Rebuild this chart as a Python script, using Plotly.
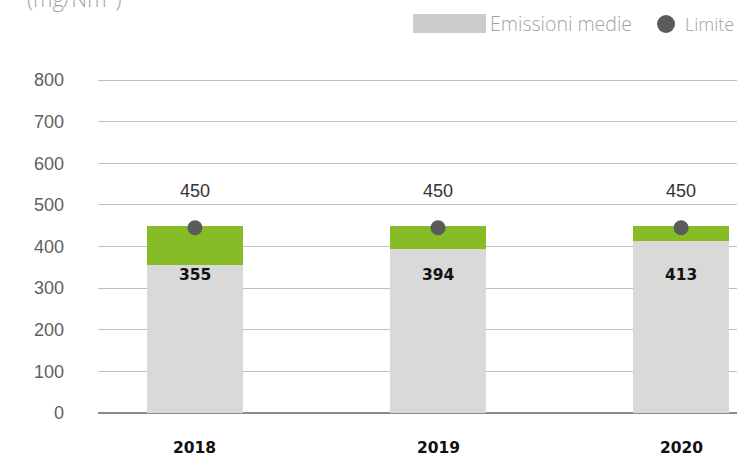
import plotly.graph_objects as go

years = ["2018", "2019", "2020"]
emissioni = [355, 394, 413]
limite = [450, 450, 450]
y_ticks = [0, 100, 200, 300, 400, 500, 600, 700, 800]

gap = [l - e for l, e in zip(limite, emissioni)]
xpos = list(range(len(years)))

GRAY = "#d9d9d9"
GREEN = "#86bc25"
DOT = "#5b5b5b"
LEG = "#a3a3a3"

T = 78           # top margin (px)
H = 335          # plot height (px)


def py(pix):
    """paper y fraction for a pixel row measured from the top of the figure"""
    return 1 + (T - pix) / H


def px(pix):
    return (pix - 98) / 639


fig = go.Figure()
fig.add_trace(go.Bar(
    x=xpos, y=emissioni, width=0.395, marker=dict(color=GRAY, line=dict(width=0)),
    showlegend=False, hoverinfo="skip",
))
fig.add_trace(go.Bar(
    x=xpos, y=gap, width=0.395, marker=dict(color=GREEN, line=dict(width=0)),
    showlegend=False, hoverinfo="skip",
))
fig.add_trace(go.Scatter(
    x=xpos, y=[l - 5 for l in limite], mode="markers",
    marker=dict(color=DOT, size=15), showlegend=False, hoverinfo="skip",
))

annotations = []
for x, l in zip(xpos, limite):
    annotations.append(dict(
        x=x, y=l, xref="x", yref="y", text=str(l), showarrow=False,
        yanchor="middle", yshift=35,
        font=dict(family="Liberation Sans", size=18, color="#333333"),
    ))
for x, v in zip(xpos, emissioni):
    annotations.append(dict(
        x=x, y=0, xref="x", yref="y", text=str(v), showarrow=False,
        yanchor="middle", yshift=138,
        font=dict(family="DejaVu Sans", size=15.5, color="#111111", weight="bold"),
    ))
for x, yr in zip(xpos, years):
    annotations.append(dict(
        x=x, y=0, xref="x", yref="y", text=yr, showarrow=False,
        yanchor="middle", yshift=-35,
        font=dict(family="DejaVu Sans", size=15.5, color="#111111", weight="bold"),
    ))

annotations += [
    dict(text="Emissioni medie", xref="paper", yref="paper",
         x=px(488), y=py(24), xanchor="left", yanchor="middle",
         showarrow=False, font=dict(family="Open Sans", size=19.5, color=LEG, weight=300)),
    dict(text="Limite", xref="paper", yref="paper",
         x=px(683), y=py(24), xanchor="left", yanchor="middle",
         showarrow=False, font=dict(family="Open Sans", size=18, color=LEG, weight=300)),
    dict(text="(mg/Nm<sup>3</sup>)", xref="paper", yref="paper",
         x=px(25), y=py(15), xanchor="left", yanchor="bottom",
         showarrow=False, font=dict(family="Open Sans", size=22, color=LEG, weight=300)),
]

fig.update_layout(
    barmode="stack",
    width=737, height=457,
    margin=dict(l=98, r=0, t=T, b=457 - T - H, autoexpand=False),
    paper_bgcolor="white", plot_bgcolor="white",
    xaxis=dict(
        range=[-0.399, 2.23], tickvals=xpos, showticklabels=False,
        showgrid=False, zeroline=False, showline=False, ticks="", automargin=False,
    ),
    yaxis=dict(
        range=[0, 805], tickvals=y_ticks, showgrid=True, gridcolor="#bfbfbf", gridwidth=1,
        zeroline=True, zerolinecolor="#8c8c8c", zerolinewidth=1.5,
        showline=False, ticks="", automargin=False,
        tickfont=dict(family="Liberation Sans", size=18, color="#5f5f5f"),
        ticklabelstandoff=33,
    ),
    shapes=[
        dict(type="rect", xref="paper", yref="paper",
             x0=px(413), x1=px(486), y0=py(33), y1=py(14),
             fillcolor="#cccccc", line=dict(width=0)),
        dict(type="circle", xref="paper", yref="paper",
             x0=px(657), x1=px(675), y0=py(33), y1=py(15),
             fillcolor=DOT, line=dict(width=0)),
    ],
    annotations=annotations,
)

fig.write_html(
    "out.html",
    config={"displayModeBar": False},
    post_script="document.body.style.margin='0';document.body.style.overflow='hidden';",
)
